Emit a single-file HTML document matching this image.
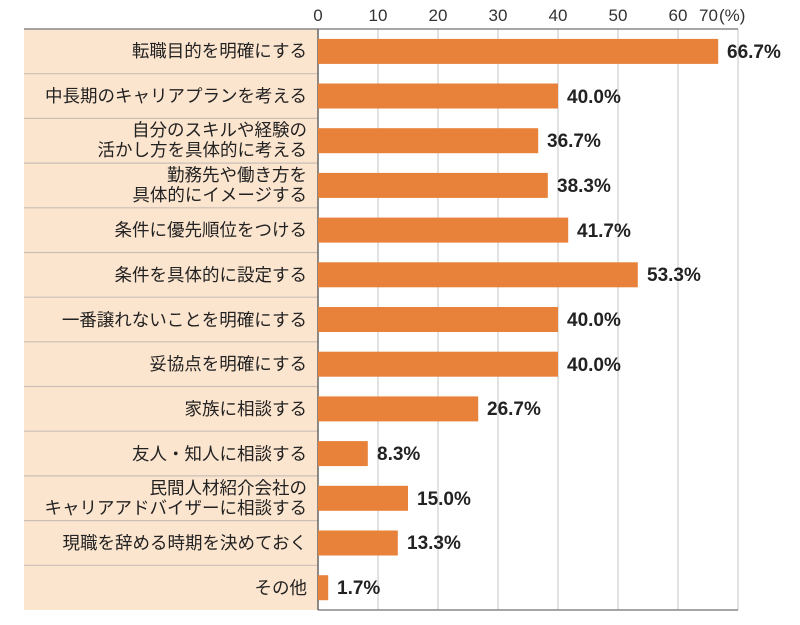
<!DOCTYPE html>
<html><head><meta charset="utf-8"><style>
body{margin:0;background:#fff;width:800px;height:620px;overflow:hidden}
svg text{font-family:"Liberation Sans","Noto Sans CJK JP",sans-serif}
</style></head><body>
<svg width="800" height="620" xmlns="http://www.w3.org/2000/svg">
<rect x="24" y="29" width="294" height="581" fill="#FCE5CF"/>
<g stroke="#cfcfcf" stroke-width="1.2">
<line x1="378" y1="29" x2="378" y2="610"/><line x1="438" y1="29" x2="438" y2="610"/>
<line x1="498" y1="29" x2="498" y2="610"/><line x1="558" y1="29" x2="558" y2="610"/>
<line x1="618" y1="29" x2="618" y2="610"/><line x1="678" y1="29" x2="678" y2="610"/>
<line x1="738" y1="29" x2="738" y2="610"/>
</g>
<g stroke="#c9bfb5" stroke-width="1.2">
<line x1="24" y1="73.7" x2="318" y2="73.7"/><line x1="24" y1="118.4" x2="318" y2="118.4"/>
<line x1="24" y1="163.1" x2="318" y2="163.1"/><line x1="24" y1="207.8" x2="318" y2="207.8"/>
<line x1="24" y1="252.5" x2="318" y2="252.5"/><line x1="24" y1="297.2" x2="318" y2="297.2"/>
<line x1="24" y1="341.8" x2="318" y2="341.8"/><line x1="24" y1="386.5" x2="318" y2="386.5"/>
<line x1="24" y1="431.2" x2="318" y2="431.2"/><line x1="24" y1="475.9" x2="318" y2="475.9"/>
<line x1="24" y1="520.6" x2="318" y2="520.6"/><line x1="24" y1="565.3" x2="318" y2="565.3"/>
</g>
<line x1="24" y1="29" x2="738" y2="29" stroke="#888" stroke-width="1.5"/>
<line x1="318" y1="610" x2="738" y2="610" stroke="#888" stroke-width="1.5"/>
<line x1="318" y1="29" x2="318" y2="610" stroke="#666" stroke-width="1.5"/>
<g font-size="17" fill="#333" text-anchor="middle">
<text x="318" y="21">0</text><text x="378" y="21">10</text><text x="438" y="21">20</text>
<text x="498" y="21">30</text><text x="558" y="21">40</text><text x="618" y="21">50</text>
<text x="678" y="21">60</text><text x="699" y="21" text-anchor="start">70</text><text x="719" y="21" text-anchor="start">(%)</text>
</g>
<g fill="#E8823A">
<rect x="318" y="38.9" width="400.2" height="25"/>
<rect x="318" y="83.5" width="240" height="25"/>
<rect x="318" y="128.2" width="220.2" height="25"/>
<rect x="318" y="172.9" width="229.8" height="25"/>
<rect x="318" y="217.6" width="250.2" height="25"/>
<rect x="318" y="262.3" width="319.8" height="25"/>
<rect x="318" y="307" width="240" height="25"/>
<rect x="318" y="351.7" width="240" height="25"/>
<rect x="318" y="396.4" width="160.2" height="25"/>
<rect x="318" y="441.1" width="49.8" height="25"/>
<rect x="318" y="485.8" width="90" height="25"/>
<rect x="318" y="530.5" width="79.8" height="25"/>
<rect x="318" y="575.2" width="10.2" height="25"/>
</g>
<g font-size="19" font-weight="bold" fill="#222">
<text x="727" y="58">66.7%</text>
<text x="567" y="103">40.0%</text>
<text x="547" y="147">36.7%</text>
<text x="557" y="192">38.3%</text>
<text x="577" y="237">41.7%</text>
<text x="647" y="281">53.3%</text>
<text x="567" y="326">40.0%</text>
<text x="567" y="371">40.0%</text>
<text x="487" y="415">26.7%</text>
<text x="377" y="460">8.3%</text>
<text x="417" y="505">15.0%</text>
<text x="407" y="549">13.3%</text>
<text x="337" y="594">1.7%</text>
</g>
<g font-size="17.5" fill="#222" text-anchor="end">
<text x="307" y="57">転職目的を明確にする</text>
<text x="307" y="102">中長期のキャリアプランを考える</text>
<text x="307" y="136">自分のスキルや経験の</text>
<text x="307" y="156">活かし方を具体的に考える</text>
<text x="307" y="181">勤務先や働き方を</text>
<text x="307" y="201">具体的にイメージする</text>
<text x="307" y="236">条件に優先順位をつける</text>
<text x="307" y="281">条件を具体的に設定する</text>
<text x="307" y="326">一番譲れないことを明確にする</text>
<text x="307" y="370">妥協点を明確にする</text>
<text x="307" y="415">家族に相談する</text>
<text x="307" y="460">友人・知人に相談する</text>
<text x="307" y="494">民間人材紹介会社の</text>
<text x="307" y="514">キャリアアドバイザーに相談する</text>
<text x="307" y="549">現職を辞める時期を決めておく</text>
<text x="307" y="594">その他</text>
</g>
</svg>
</body></html>
